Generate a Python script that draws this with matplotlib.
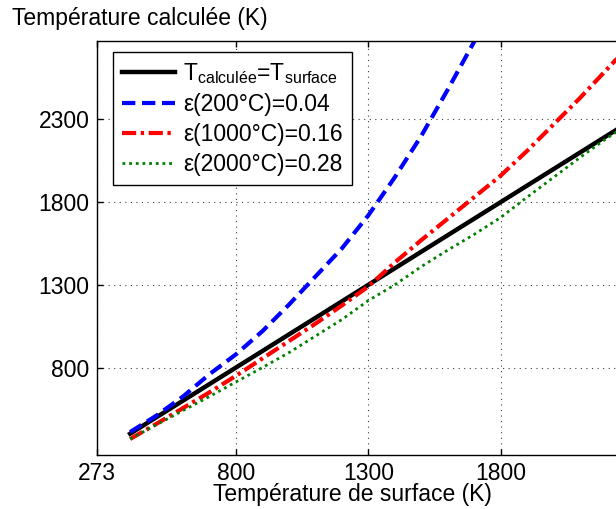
import matplotlib.pyplot as plt

plt.rcParams['font.family'] = ['Liberation Sans', 'DejaVu Sans']
plt.rcParams['mathtext.fontset'] = 'custom'
plt.rcParams['mathtext.rm'] = 'Liberation Sans'
plt.rcParams['mathtext.it'] = 'Liberation Sans'

# surface temperature (K)
t_surface = [400, 500, 600, 700, 800, 900, 1000, 1100, 1200, 1300, 1400, 1500,
             1600, 1700, 1800, 1900, 2000, 2100, 2200, 2300, 2400]

# computed temperature for each emissivity
t_eps_004 = [410, 510, 625, 760, 880, 1020, 1180, 1350, 1520, 1720, 1950, 2200,
             2480, 2770, 3060]
t_eps_016 = [368, 460, 555, 650, 750, 855, 960, 1065, 1175, 1290, 1435, 1570,
             1700, 1830, 1960, 2110, 2270, 2430, 2600, 2770, 2950]
t_eps_028 = [368, 455, 540, 625, 713, 800, 890, 990, 1090, 1205, 1300, 1410,
             1510, 1605, 1707, 1830, 1950, 2070, 2185, 2290, 2400]

labels = [r'T$_{\mathrm{calculée}}$=T$_{\mathrm{surface}}$',
          'ε(200°C)=0.04', 'ε(1000°C)=0.16', 'ε(2000°C)=0.28']
xticks = [273, 800, 1300, 1800]
yticks = [800, 1300, 1800, 2300]

fig = plt.figure(figsize=(6.16, 5.09), dpi=100)
# axes runs past the right edge, as in the cropped original
ax = fig.add_axes([0.1567, 0.1067, 1.0739, 0.8122])

ax.plot(t_surface, t_surface, color='black', lw=3.2, label=labels[0])
ax.plot(t_surface[:len(t_eps_004)], t_eps_004, color='#0000ff', lw=3,
        linestyle=(0, (3.2, 1.6)), label=labels[1])
ax.plot(t_surface, t_eps_016, color='#ff0000', lw=3,
        linestyle=(0, (3.4, 1.1, 0.8, 1.1)), label=labels[2])
ax.plot(t_surface, t_eps_028, color='#008000', lw=2,
        linestyle=(0, (1, 1.4)), label=labels[3])

ax.set_xlim(273, 2773)
ax.set_ylim(273, 2773)
ax.set_xticks(xticks)
ax.set_yticks(yticks)
ax.tick_params(direction='in', length=4, width=1, labelsize=16.5,
               top=True, right=True)
ax.tick_params(axis='x', pad=5)
ax.tick_params(axis='y', pad=5)
# grid line for 2300 on x sits past the visible area, so only the listed ticks
ax.grid(True, color='0.25', linestyle=(0, (1, 4)), lw=0.8)
for s in ax.spines.values():
    s.set_linewidth(1)

leg = ax.legend(loc='upper left', bbox_to_anchor=(0.025, 0.974), fontsize=16.5,
                handlelength=2.3, handletextpad=0.35, labelspacing=0.3,
                borderpad=0.4, borderaxespad=0, fancybox=False, framealpha=1,
                edgecolor='black')
leg.get_frame().set_linewidth(1)

fig.text(12 / 616, 1 - 18 / 509, 'Température calculée (K)', fontsize=16.5,
         va='center', ha='left')
fig.text(352 / 616, 1 - 494 / 509, 'Température de surface (K)', fontsize=16.5,
         va='center', ha='center')

fig.savefig('out.png', dpi=100)
